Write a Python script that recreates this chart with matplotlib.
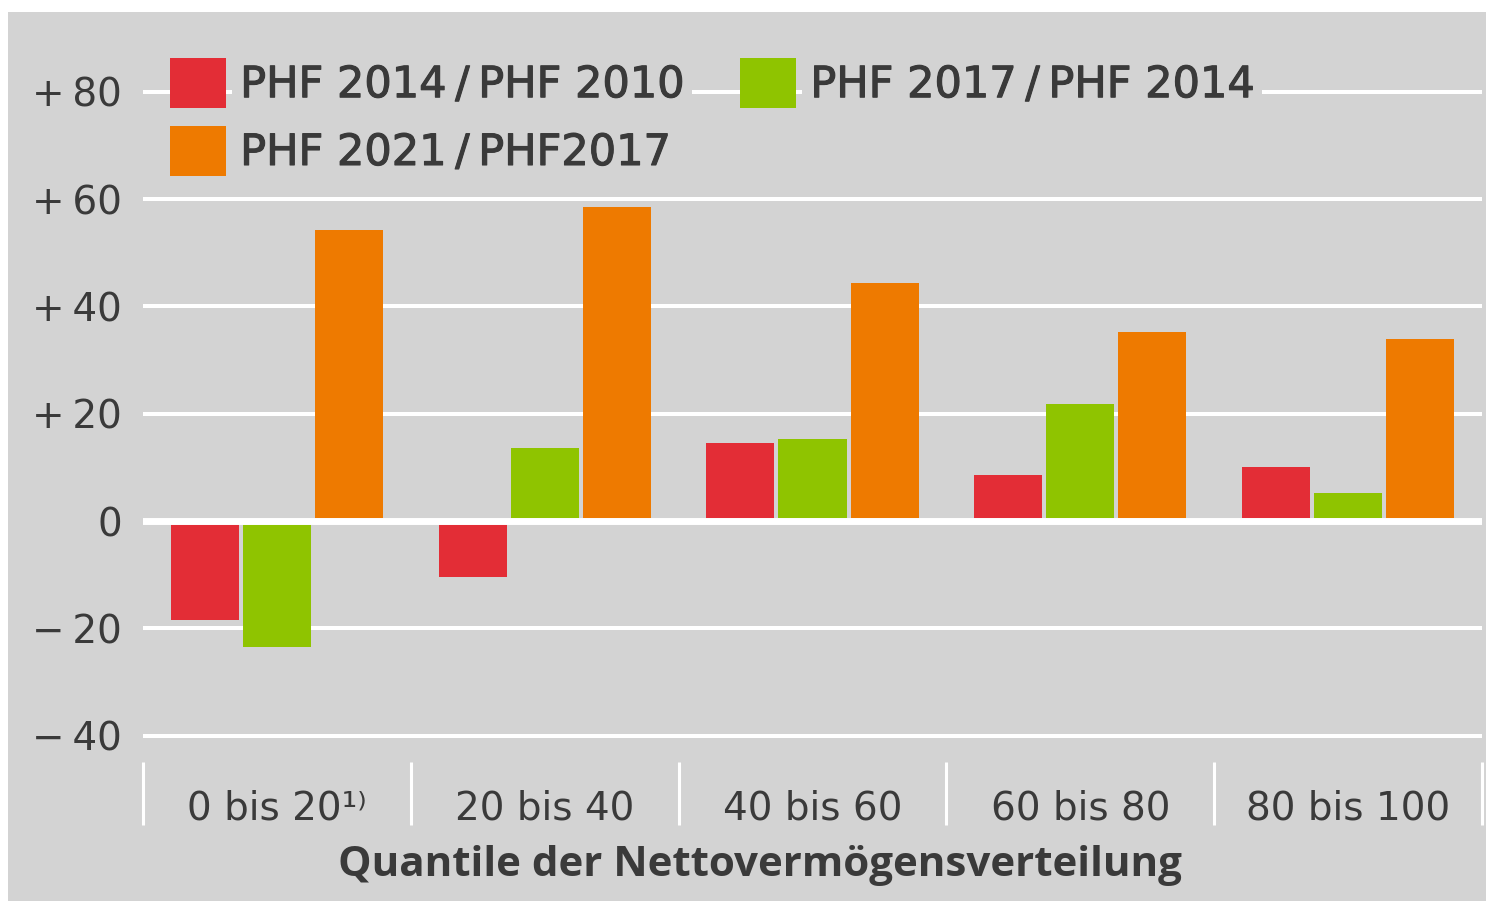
import matplotlib
matplotlib.use("Agg")
import matplotlib.pyplot as plt
from matplotlib.patches import Patch, Rectangle
import matplotlib.patheffects as pe
import numpy as np

plt.rcParams['font.family'] = ['DejaVu Sans']

categories = ["0 bis 20¹⁾", "20 bis 40", "40 bis 60", "60 bis 80", "80 bis 100"]
series_labels = ["PHF 2014\u2009/\u2009PHF 2010", "PHF 2017\u2009/\u2009PHF 2014",
                 "PHF 2021\u2009/\u2009PHF2017"]
phf_2014_2010 = [-18.5, -10.4, 14.5, 8.6, 10.1]
phf_2017_2014 = [-23.5, 13.6, 15.3, 21.8, 5.2]
phf_2021_2017 = [54.2, 58.5, 44.4, 35.2, 33.9]
yticks = [-40, -20, 0, 20, 40, 60, 80]
ytick_labels = ["−\u200940", "−\u200920", "0", "+\u200920", "+\u200940", "+\u200960", "+\u200980"]
xlabel = "Quantile der Nettovermögensverteilung"

colors = ["#e32d36", "#8fc400", "#ee7a00"]
bg = "#d3d3d3"
txt = "#3a3a3a"

W, H = 1486, 901
fig = plt.figure(figsize=(W / 100, H / 100), dpi=100, facecolor="white")
# gray panel
panel = Rectangle((8 / W, 0), 1 - 8 / W, (H - 12) / H, transform=fig.transFigure,
                  facecolor=bg, edgecolor="none", zorder=-10)
fig.add_artist(panel)

ax = fig.add_axes([143 / W, (H - 762) / H, (1482 - 143) / W, (762 - 40) / H])
ax.set_zorder(1)
ax.set_facecolor("none")
for s in ax.spines.values():
    s.set_visible(False)

x = np.arange(len(categories))
bw = 0.254
off = 0.269
series = [phf_2014_2010, phf_2017_2014, phf_2021_2017]
for i, (vals, c) in enumerate(zip(series, colors)):
    ax.bar(x + (i - 1) * off, vals, width=bw, color=c, zorder=2, linewidth=0)

ax.set_xlim(-0.5, len(categories) - 0.5)
ax.set_ylim(-44.92, 89.66)

ax.set_yticks(yticks)
ax.set_yticklabels(ytick_labels)
ax.yaxis.grid(True, color="white", linewidth=2.9, zorder=1)
ax.set_axisbelow(True)
ax.axhline(0, color="white", linewidth=5, zorder=3)
ax.tick_params(axis="y", length=0, pad=15, labelsize=28, labelcolor=txt)

ax.set_xticks(x)
ax.set_xticklabels(categories)
ax.set_xticks(np.arange(len(categories) + 1) - 0.5, minor=True)
ax.tick_params(axis="x", which="major", length=0, pad=20, labelsize=28, labelcolor=txt)
ax.tick_params(axis="x", which="minor", length=45, width=2.2, color="white", direction="out")

fig.text(760 / W, (H - 866) / H, xlabel, ha="center", va="center", fontsize=30.3,
         fontweight="bold", color=txt, family=["Open Sans", "DejaVu Sans"])

handles = [Patch(facecolor=colors[0], edgecolor="none"),
           Patch(facecolor=colors[2], edgecolor="none"),
           Patch(facecolor=colors[1], edgecolor="none")]
labels = [series_labels[0], series_labels[2], series_labels[1]]
leg = ax.legend(handles, labels, ncol=2, loc="upper left",
                bbox_to_anchor=(170 / W, (H - 58) / H), bbox_transform=fig.transFigure,
                frameon=False, borderpad=0, borderaxespad=0,
                handlelength=1.30, handleheight=1.4, handletextpad=0.33,
                columnspacing=1.3, labelspacing=0.42,
                prop={"size": 31})
for t in leg.get_texts():
    t.set_color(txt)
    t.set_path_effects([pe.withStroke(linewidth=0.8, foreground=txt)])
    t.set_bbox(dict(facecolor=bg, edgecolor="none", pad=6))
leg.set_zorder(5)

fig.savefig("out.png", dpi=100, facecolor="white")
